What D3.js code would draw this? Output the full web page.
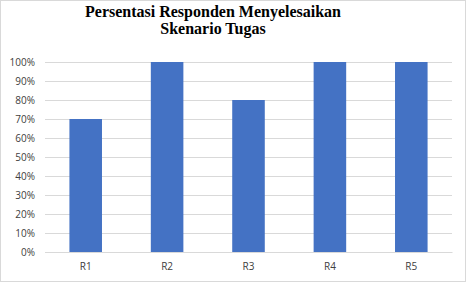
<!DOCTYPE html>
<html><head><meta charset="utf-8">
<script src="https://cdn.jsdelivr.net/npm/d3@7"></script>
<style>html,body{margin:0;padding:0;background:#fff;}svg{display:block;}
.ttl{font-family:"Liberation Serif","Times New Roman",Times,"DejaVu Serif",serif;font-weight:bold;font-size:16px;}
.lbl{font-family:"Open Sans",sans-serif;font-size:10px;}
</style>
</head><body>
<svg id="c" width="467" height="283"></svg>
<script>
const categories = ["R1","R2","R3","R4","R5"];
const values = [0.70, 1.00, 0.80, 1.00, 1.00];
const yTicks = [0,0.1,0.2,0.3,0.4,0.5,0.6,0.7,0.8,0.9,1.0];
const titleLines = ["Persentasi Responden Menyelesaikan","Skenario Tugas"];

(function(){
const svg = d3.select("#c");
svg.append("rect").attr("x",0.5).attr("y",0.5).attr("width",465).attr("height",281)
  .attr("fill","#fff").attr("stroke","#d9d9d9");

const pL=45, pR=452, pT=62, pB=252;
const x = d3.scaleBand().domain(categories).range([pL,pR]).paddingInner(0.6).paddingOuter(0.3);
const y = d3.scaleLinear().domain([0,1]).range([pB,pT]);

const yAxis = svg.append("g").attr("transform",`translate(${pL},0)`)
  .call(d3.axisLeft(y).tickValues(yTicks).tickFormat(d3.format(".0%")).tickSize(-(pR-pL)).tickPadding(10));
yAxis.select(".domain").remove();
yAxis.selectAll(".tick line").attr("stroke","#d9d9d9");
yAxis.selectAll(".tick text").attr("fill","#404040").attr("class","lbl").attr("font-family",null).attr("font-size",null);
yAxis.attr("font-family",null).attr("font-size",null);

svg.append("g").selectAll("rect").data(categories).join("rect")
  .attr("x",d=>x(d)).attr("width",x.bandwidth())
  .attr("y",(d,i)=>y(values[i])).attr("height",(d,i)=>pB-y(values[i]))
  .attr("fill","#4472c4");

const xAxis = svg.append("g").attr("transform",`translate(0,${pB})`)
  .call(d3.axisBottom(x).tickSize(0).tickPadding(11));
xAxis.attr("font-family",null).attr("font-size",null);
xAxis.select(".domain").attr("stroke","#d9d9d9");
xAxis.selectAll(".tick text").attr("fill","#404040").attr("class","lbl");

svg.append("g").selectAll("text").data(titleLines).join("text")
  .attr("class","ttl")
  .attr("x",213).attr("y",(d,i)=>17+i*17).attr("text-anchor","middle")
  .attr("fill","#000").text(d=>d);
})();
</script>
</body></html>
